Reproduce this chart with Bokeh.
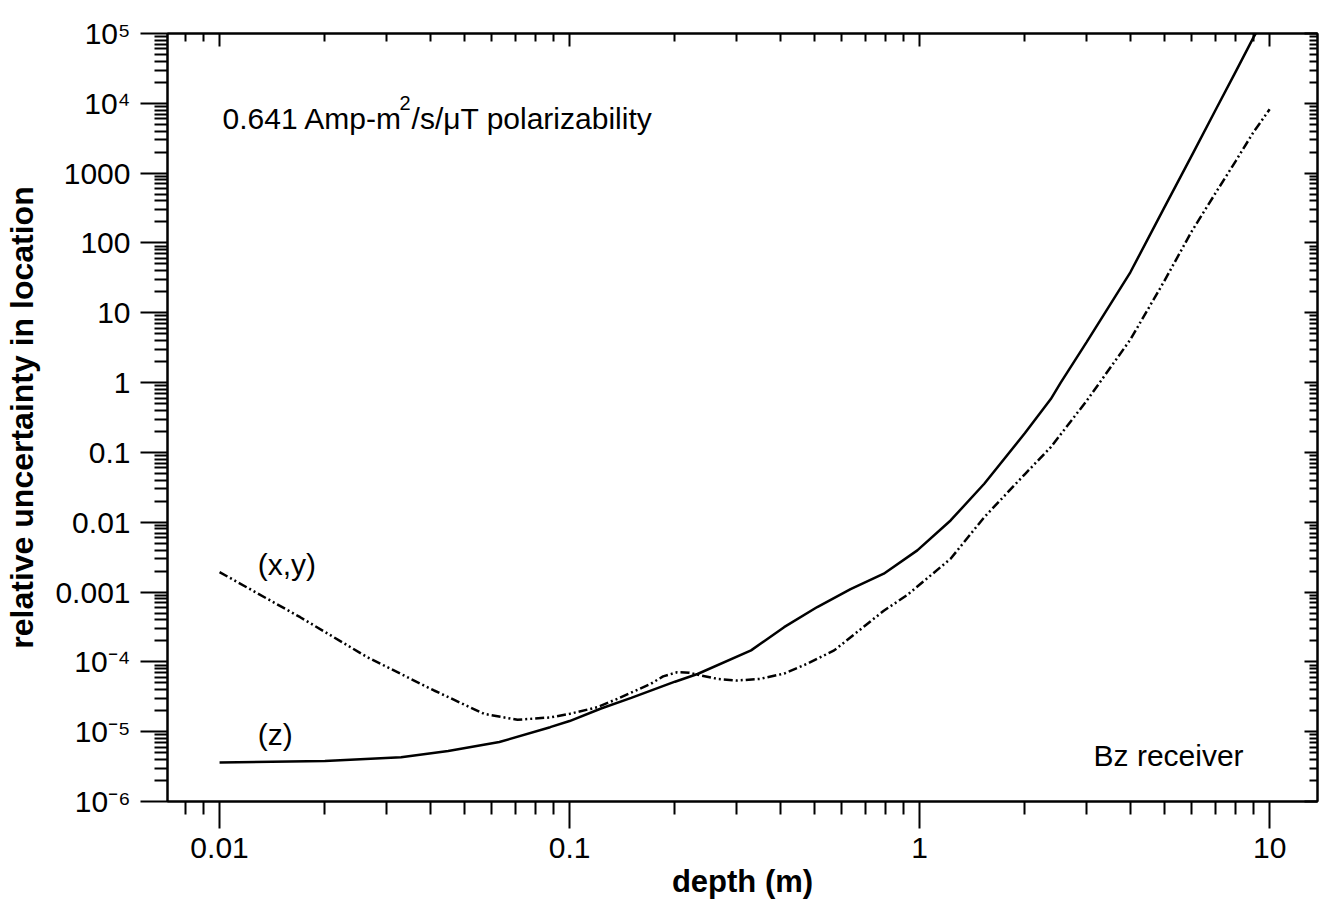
from bokeh.plotting import figure
from bokeh.models import FixedTicker, LogAxis, Label, Range1d
from bokeh.embed import file_html
from bokeh.resources import INLINE

# ---- data ----
z_depth = [0.01, 0.02, 0.033, 0.045, 0.063, 0.088, 0.1, 0.123, 0.15, 0.2, 0.232,
           0.33, 0.41, 0.51, 0.635, 0.79, 0.985, 1.226, 1.53, 2.0, 2.37, 2.53,
           3.0, 4.0, 5.0, 6.0, 7.0, 8.0, 9.0, 10.0]
z_unc = [3.62e-6, 3.8e-6, 4.3e-6, 5.3e-6, 7.1e-6, 1.16e-5, 1.42e-5, 2.15e-5,
         3.05e-5, 5.2e-5, 6.7e-5, 1.46e-4, 3.14e-4, 6.1e-4, 1.1e-3, 1.83e-3,
         3.95e-3, 1.06e-2, 3.56e-2, 0.19, 0.58, 1.0, 3.8, 38, 320, 1815, 7950,
         28400, 88700, 2.2e5]

xy_depth = [0.01, 0.017, 0.0264, 0.041, 0.057, 0.071, 0.088, 0.1, 0.12, 0.137,
            0.155, 0.17, 0.185, 0.203, 0.22, 0.237, 0.265, 0.3, 0.35, 0.41,
            0.48, 0.57, 0.79, 0.92, 1.226, 1.53, 2.0, 2.37, 3.0, 4.0, 5.0, 6.0,
            7.0, 8.0, 9.0, 10.0]
xy_unc = [1.93e-3, 4.36e-4, 1.17e-4, 3.89e-5, 1.8e-5, 1.48e-5, 1.6e-5, 1.8e-5,
          2.24e-5, 2.96e-5, 3.9e-5, 4.8e-5, 6.2e-5, 7.1e-5, 7.0e-5, 6.4e-5,
          5.7e-5, 5.4e-5, 5.7e-5, 6.8e-5, 9.5e-5, 1.46e-4, 5.4e-4, 9e-4, 3.0e-3,
          1.18e-2, 4.9e-2, 0.119, 0.547, 4.13, 28.4, 149, 515, 1490, 3890, 8200]

x_ticks = [0.01, 0.1, 1, 10]
x_tick_labels = ["0.01", "0.1", "1", "10"]
y_ticks = [1e-6, 1e-5, 1e-4, 1e-3, 1e-2, 1e-1, 1, 10, 100, 1000, 1e4, 1e5]
y_tick_labels = ["10\u207b\u2076", "10\u207b\u2075", "10\u207b\u2074", "0.001",
                 "0.01", "0.1", "1", "10", "100", "1000", "10\u2074", "10\u2075"]

FONT = "Liberation Sans"
X0, X1 = 0.0071, 13.7

def minors(lo_exp, hi_exp):
    out = []
    for e in range(lo_exp, hi_exp + 1):
        for k in range(2, 10):
            out.append(k * 10.0 ** e)
    return out

x_minor = [v for v in minors(-3, 1) if X0 <= v <= X1]
y_minor = minors(-6, 4)

p = figure(width=1320, height=905, x_axis_type="log", y_axis_type="log",
           x_range=Range1d(X0, X1), y_range=Range1d(1e-6, 1e5),
           output_backend="svg", toolbar_location=None,
           min_border_left=167, min_border_right=3, min_border_top=33,
           min_border_bottom=104)
p.grid.visible = False
p.outline_line_color = "black"
p.outline_line_width = 2
p.background_fill_color = "white"
p.border_fill_color = "white"

xt = FixedTicker(ticks=x_ticks, minor_ticks=x_minor)
yt = FixedTicker(ticks=y_ticks, minor_ticks=y_minor)

def style_main(ax, ticker, ticks, labels):
    ax.ticker = ticker
    ax.major_label_overrides = {t: l for t, l in zip(ticks, labels)}
    ax.axis_line_width = 2
    ax.major_tick_line_width = 2
    ax.minor_tick_line_width = 2
    ax.major_tick_out = 27
    ax.major_tick_in = 0
    ax.minor_tick_out = 13
    ax.minor_tick_in = 0
    ax.major_label_text_font = FONT
    ax.major_label_text_font_size = "30px"
    ax.major_label_text_color = "black"
    ax.axis_label_text_font = FONT
    ax.axis_label_text_font_size = "31px"
    ax.axis_label_text_font_style = "bold"
    ax.axis_label_text_color = "black"

style_main(p.xaxis[0], xt, x_ticks, x_tick_labels)
style_main(p.yaxis[0], yt, y_ticks, y_tick_labels)
p.xaxis[0].axis_label = "depth (m)"
p.xaxis[0].major_label_standoff = 9
p.xaxis[0].axis_label_standoff = 3

yax = p.yaxis[0]
yax.axis_label = "relative uncertainty in location"
yax.axis_label_text_font_size = "32px"
yax.major_label_standoff = 10
yax.axis_label_standoff = 12

for loc, tk in (("above", xt), ("right", yt)):
    ax = LogAxis(ticker=tk)
    ax.axis_line_width = 2
    ax.major_tick_line_width = 2
    ax.minor_tick_line_width = 2
    ax.major_tick_out = 0
    ax.major_tick_in = 13
    ax.minor_tick_out = 0
    ax.minor_tick_in = 8
    ax.major_label_text_font_size = "1px"
    ax.major_label_text_alpha = 0
    ax.major_label_standoff = 0
    p.add_layout(ax, loc)

p.line(z_depth, z_unc, line_color="black", line_width=2.5)
p.line(xy_depth, xy_unc, line_color="black", line_width=2.5,
       line_dash="9 3 2 3 2 3")

def lab(x, y, text, size="30px", xo=0, yo=0):
    p.add_layout(Label(x=x, y=y, text=text, text_font=FONT,
                       text_font_size=size, text_color="black",
                       x_offset=xo, y_offset=yo,
                       text_align="left", text_baseline="alphabetic"))

lab(0.0102, 4508, "0.641 Amp-m", yo=9)
lab(0.0102, 4508, "2", size="20px", xo=177, yo=24)
lab(0.0102, 4508, "/s/\u03bcT polarizability", xo=189, yo=9)
lab(0.01285, 1.844e-3, "(x,y)", yo=9)
lab(0.01285, 6.77e-6, "(z)", yo=9)
lab(3.14, 3.17e-6, "Bz receiver", yo=11)

open("out.html", "w").write(file_html(p, INLINE))
